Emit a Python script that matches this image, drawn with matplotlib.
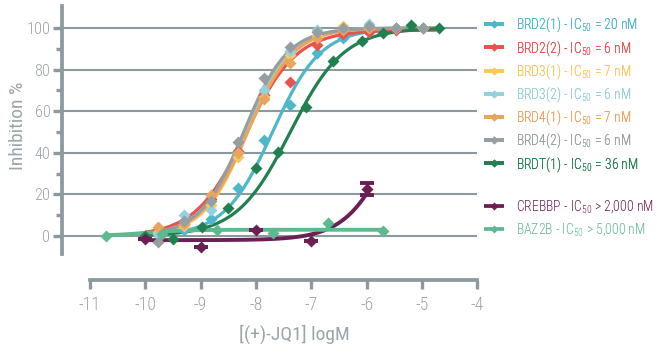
import matplotlib
matplotlib.use('Agg')
import matplotlib.pyplot as plt
import numpy as np
from matplotlib.lines import Line2D
from matplotlib import font_manager

names = {f.name for f in font_manager.fontManager.ttflist}
FONT = 'Liberation Sans'
for cand in ['Roboto Condensed', 'Archivo Narrow', 'PT Sans Narrow', 'Fira Sans Condensed',
             'Liberation Sans Narrow', 'Roboto']:
    if cand in names:
        FONT = cand
        break
plt.rcParams['font.family'] = [FONT, 'DejaVu Sans']
plt.rcParams['font.weight'] = 'light'
plt.rcParams['mathtext.fontset'] = 'custom'
plt.rcParams['mathtext.rm'] = FONT + ':light'
plt.rcParams['mathtext.it'] = FONT + ':light'
plt.rcParams['mathtext.bf'] = FONT

# ---------------- data ----------------
series = ['BRD2(1)', 'BRD2(2)', 'BRD3(1)', 'BRD3(2)', 'BRD4(1)', 'BRD4(2)', 'BRDT(1)']
ic50_text = ['= 20 nM', '= 6 nM', '= 7 nM', '= 6 nM', '= 7 nM', '= 6 nM', '= 36 nM']
colors = ['#4db8c9', '#e8524f', '#fcc85b', '#93d2dc', '#eba45c', '#959fa3', '#21804f']

x_brd = [-9.77, -9.29, -8.81, -8.33, -7.86, -7.38, -6.90, -6.42, -5.95, -5.47, -4.99]
y_brd21 = [1, 3, 8, 23, 46, 63, 88, 95, 98, 100, 100]
y_brd22 = [3, 6, 18, 41, 68, 74, 92, 97, 98, 99, 100]
y_brd31 = [2, 5, 15, 38, 67, 87, 96, 101, 100, 100, 100]
y_brd32 = [1, 10, 12.5, 40, 70, 89, 99, 100, 102, 100, 100]
y_brd41 = [4.5, 6, 19.7, 40, 66, 83, 95, 99, 100, 100, 100]
y_brd42 = [-3, 7, 17, 45, 76, 91, 98, 100, 101, 100, 100]
x_brdt = [-10.0, -9.5, -8.98, -8.5, -7.99, -7.6, -7.09, -6.6, -6.09, -5.7, -5.2, -4.7]
y_brdt = [0, -1.6, 4.2, 13.3, 32.5, 40.2, 61.9, 84.3, 93.9, 97.4, 101.4, 99.8]

# four-parameter logistic fit parameters: bottom, top, logIC50, hill
fit_bottom = [0, 0, 0, 0, 0, 0, 0]
fit_top = [100, 99, 100, 100, 100, 100, 100]
fit_logic50 = [-7.70, -8.18, -8.15, -8.20, -8.15, -8.22, -7.38]
fit_hill = [1.0, 0.95, 1.1, 1.1, 1.05, 1.1, 0.9]
fit_range = (-10.0, -4.75)

crebbp_x = [-10.0, -9.0, -8.0, -7.0, -6.0]
crebbp_y = [-1.5, -5.1, 2.9, -2.4, 22.5]
crebbp_err = [0, 0, 0, 0, 2.9]
crebbp_fit = (-2.0, 100.0, -5.45, 1.0)
crebbp_range = (-10.0, -6.0)

baz2b_x = [-10.7, -9.7, -8.7, -7.7, -6.7, -5.7]
baz2b_y = [0, 1.0, 2.9, 1.3, 6.1, 2.6]
baz2b_fit = (0.0, 3.0, -10.0, 1.2)
baz2b_range = (-10.7, -5.7)

crebbp_color = '#6b1f53'
baz2b_color = '#5dba8f'

xticks = [-11, -10, -9, -8, -7, -6, -5, -4]
yticks = [0, 20, 40, 60, 80, 100]

AX = '#8c999e'
TXT = '#9aa5a9'


def logistic(x, b, t, c, h):
    x = np.asarray(x)
    return b + (t - b) / (1 + 10 ** ((c - x) * h))


fig = plt.figure(figsize=(6.6, 3.47), dpi=100)
renderer = fig.canvas.get_renderer()


def fit_size(s, target_px, lo=7, hi=14):
    t = fig.text(0, 0, s, fontsize=10)
    w = t.get_window_extent(renderer).width
    t.remove()
    return float(np.clip(10 * target_px / w, lo, hi))


leg_fs = fit_size(r'BRD2(1) - IC$_{\mathregular{50}}$ = 20 nM', 122, hi=11.5)
ytick_fs = fit_size('100', 24)
xtick_fs = fit_size('-10', 22)
ylab_fs = fit_size('Inhibition %', 92)
xlab_fs = fit_size('[(+)-JQ1] logM', 108)

ax = fig.add_axes([62 / 660, 67 / 347, 415.5 / 660, 275 / 347])
ax.set_xlim(-11.5, -4.0)
ax.set_ylim(-21.15, 111.06)
ax.set_axisbelow(True)

ys = [y_brd21, y_brd22, y_brd31, y_brd32, y_brd41, y_brd42]
handles = []
for i, name in enumerate(series):
    xs = x_brdt if i == 6 else x_brd
    yv = y_brdt if i == 6 else ys[i]
    xx = np.linspace(fit_range[0], fit_range[1], 300)
    ax.plot(xx, logistic(xx, fit_bottom[i], fit_top[i], fit_logic50[i], fit_hill[i]),
            color=colors[i], lw=2.3, solid_capstyle='butt', zorder=3)
    ax.plot(xs, yv, ls='none', marker='D', ms=6, color=colors[i], mec='none', zorder=4)
    handles.append(Line2D([], [], color=colors[i], lw=2.7, marker='D', ms=4.5, mec='none',
                          solid_capstyle='butt',
                          label=name + r' - IC$_{\mathregular{50}}$ ' + ic50_text[i]))

xx = np.linspace(*crebbp_range, 300)
ax.plot(xx, logistic(xx, *crebbp_fit), color=crebbp_color, lw=2.8, zorder=3)
ax.errorbar(crebbp_x, crebbp_y, yerr=crebbp_err, fmt='D', ms=6, color=crebbp_color,
            mec='none', ecolor=crebbp_color, elinewidth=2.5, capsize=5, capthick=2.8, zorder=4)
xx = np.linspace(*baz2b_range, 300)
ax.plot(xx, logistic(xx, *baz2b_fit), color=baz2b_color, lw=2.8, zorder=3)
ax.plot(baz2b_x, baz2b_y, ls='none', marker='D', ms=6, color=baz2b_color, mec='none', zorder=4)

h2 = [Line2D([], [], color=crebbp_color, lw=2.7, marker='D', ms=4.5, mec='none',
             solid_capstyle='butt', label=r'CREBBP - IC$_{\mathregular{50}}$ > 2,000 nM'),
      Line2D([], [], color=baz2b_color, lw=2.7, marker='D', ms=4.5, mec='none',
             solid_capstyle='butt', label=r'BAZ2B - IC$_{\mathregular{50}}$ > 5,000 nM')]

# axes styling
for s in ['top', 'right']:
    ax.spines[s].set_visible(False)
for s in ['left', 'bottom']:
    ax.spines[s].set_color(AX)
    ax.spines[s].set_linewidth(2.7)
ax.spines['left'].set_bounds(-8.7, 110.5)
ax.spines['bottom'].set_bounds(-11, -4)
ax.set_xticks(xticks)
ax.set_xticklabels([str(v) for v in xticks])
ax.set_yticks(yticks)
ax.set_yticks([10, 30, 50, 70, 90], minor=True)
ax.tick_params(axis='both', which='major', colors=AX, labelcolor=TXT, width=2.4,
               length=6.8, direction='out')
ax.tick_params(axis='y', which='minor', colors=AX, width=2.4, length=4.0, direction='out')
ax.tick_params(axis='y', which='major', pad=1.5, labelsize=ytick_fs)
ax.tick_params(axis='x', which='major', pad=5, labelsize=xtick_fs)
ax.yaxis.grid(True, which='major', color=AX, lw=1.5)
ax.set_ylabel('Inhibition %', color=TXT, fontsize=ylab_fs)
ax.yaxis.set_label_coords(-(62 - 18) / 415.5, (280 - 126) / 275, transform=ax.transAxes)
ax.yaxis.label.set_va('center')
ax.set_xlabel('[(+)-JQ1] logM', color=TXT, fontsize=xlab_fs)
ax.xaxis.set_label_coords((294 - 62) / 415.5, -(334 - 280) / 275)
ax.xaxis.label.set_va('center')


def make_legend(hs, top_px, spacing):
    return fig.legend(handles=hs, loc='upper left', bbox_to_anchor=(484 / 660, 1 - top_px / 347),
                      frameon=False, fontsize=leg_fs, handlelength=1.45, handletextpad=0.85,
                      labelspacing=spacing, borderpad=0, borderaxespad=0,
                      labelcolor='linecolor', numpoints=1)


def text_center_px(t):
    bb = t.get_window_extent(renderer)
    return 347 - (bb.y0 + bb.height / 2)


def placed_legend(hs, first_center_px, pitch_px):
    leg = make_legend(hs, first_center_px - 8, 0.4)
    fig.canvas.draw()
    cy = [text_center_px(t) for t in leg.get_texts()]
    cur_pitch = (cy[-1] - cy[0]) / (len(cy) - 1)
    spacing = 0.4 + (pitch_px - cur_pitch) / (leg_fs * 100 / 72)
    leg.remove()
    leg = make_legend(hs, first_center_px - 8, spacing)
    fig.canvas.draw()
    c0 = text_center_px(leg.get_texts()[0])
    leg.remove()
    return make_legend(hs, first_center_px - 8 - (c0 - first_center_px), spacing)


leg1 = placed_legend(handles, 25, 23.2)
fig.add_artist(leg1)
leg2 = placed_legend(h2, 207, 22.5)

fig.savefig('out.png', dpi=100)
